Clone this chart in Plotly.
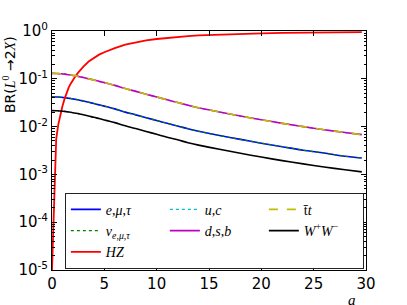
import plotly.graph_objects as go

a_vals = [0, 0.4, 0.6, 0.8, 1.0, 1.2, 1.4, 1.6, 1.8, 2.0, 2.25, 2.5, 2.75, 3, 3.5, 4,
          4.5, 5, 5.5, 6, 7, 8, 9, 10, 11, 12, 13, 14, 16, 18, 20, 22, 24, 26, 28, 29.6]

br_hz = [1e-5, 0.0055, 0.011, 0.018, 0.027, 0.038, 0.051, 0.066, 0.080, 0.095, 0.115,
         0.135, 0.158, 0.180, 0.230, 0.275, 0.320, 0.360, 0.400, 0.440, 0.520, 0.580,
         0.635, 0.680, 0.720, 0.755, 0.785, 0.810, 0.845, 0.872, 0.893, 0.910, 0.923,
         0.934, 0.942, 0.948]

br_quarks = [0.130, 0.1293, 0.1286, 0.1277, 0.1265, 0.1251, 0.1234, 0.1214, 0.1196,
             0.1177, 0.1151, 0.1125, 0.1095, 0.1066, 0.1001, 0.0943, 0.0884, 0.0832,
             0.0780, 0.0728, 0.0624, 0.0546, 0.0475, 0.0416, 0.0364, 0.0319, 0.0280,
             0.0247, 0.0202, 0.0166, 0.0139, 0.0117, 0.0100, 0.0086, 0.0075, 0.0068]
br_uc = list(br_quarks)
br_dsb = list(br_quarks)
br_tt = list(br_quarks)

br_lep = [0.0420, 0.0417, 0.0415, 0.0412, 0.0408, 0.0404, 0.0398, 0.0392, 0.0386,
          0.0380, 0.0371, 0.0363, 0.0353, 0.0344, 0.0323, 0.0304, 0.0285, 0.0268,
          0.0252, 0.0235, 0.0201, 0.0176, 0.0153, 0.0134, 0.0117, 0.0103, 0.0090,
          0.0080, 0.0065, 0.0054, 0.0045, 0.0038, 0.0032, 0.0028, 0.0024, 0.0022]
br_e = list(br_lep)
br_nu = list(br_lep)

br_ww = [0.0216, 0.0215, 0.0213, 0.0212, 0.0210, 0.0208, 0.0205, 0.0202, 0.0199,
         0.0195, 0.0191, 0.0187, 0.0182, 0.0177, 0.0166, 0.0157, 0.0147, 0.0138,
         0.0129, 0.0121, 0.0104, 0.0091, 0.0079, 0.0069, 0.0060, 0.0053, 0.0046,
         0.0041, 0.00335, 0.00276, 0.00231, 0.00194, 0.00166, 0.00143, 0.00125,
         0.00113]

ytick_vals = [1e-5, 1e-4, 1e-3, 1e-2, 1e-1, 1]
ytick_text = ["10<sup>-5</sup>", "10<sup>-4</sup>", "10<sup>-3</sup>",
              "10<sup>-2</sup>", "10<sup>-1</sup>", "10<sup>0</sup>"]
xtick_vals = [0, 5, 10, 15, 20, 25, 30]

# (name, y, color, dash, width, legendrank, shape) in drawing order
series = [
    ("<i>e</i>,<i>μ</i>,<i>τ</i>", br_e, "#0000ff", "solid", 1.6, 1, "spline"),
    ("<i>ν</i><sub><i>e</i>,<i>μ</i>,<i>τ</i></sub>", br_nu, "#008000", "dot", 1.2, 4, "spline"),
    ("<i>HZ</i>", br_hz, "#ff0000", "solid", 1.8, 7, "linear"),
    ("<i>u</i>,<i>c</i>", br_uc, "#00bfbf", "dot", 1.2, 2, "spline"),
    ("<i>d</i>,<i>s</i>,<i>b</i>", br_dsb, "#bf00bf", "solid", 1.6, 5, "spline"),
    ("t̄<i>t</i>", br_tt, "#bfbf00", "dash", 1.6, 3, "spline"),
    ("<i>W</i><sup>+</sup><i>W</i><sup>−</sup>", br_ww, "#000000", "solid", 1.6, 6, "spline"),
]

fig = go.Figure()
for name, y, color, dash, width, rank, shape in series:
    fig.add_trace(go.Scatter(
        x=a_vals, y=y, mode="lines", name=name, legendrank=rank,
        line=dict(color=color, dash=dash, width=width, shape=shape, smoothing=0.8),
    ))

axis_common = dict(
    showline=True, linecolor="black", linewidth=1, mirror="ticks",
    ticks="inside", tickcolor="black", showgrid=False, zeroline=False,
    tickfont=dict(family="DejaVu Sans", size=15, color="black"),
)

fig.update_xaxes(range=[0, 30], tickvals=xtick_vals, ticklen=5, **axis_common)
fig.update_yaxes(type="log", range=[-5, 0], tickvals=ytick_vals, ticktext=ytick_text,
                 ticklen=5,
                 minor=dict(ticks="inside", ticklen=2.5, tickcolor="black",
                            dtick="D1", showgrid=False),
                 **axis_common)

fig.add_annotation(
    xref="paper", yref="paper", x=-0.137, y=0.82, xanchor="center", yanchor="middle",
    textangle=-90, showarrow=False,
    text="BR(<span style='font-family:Liberation Serif'><i>L</i><sup>0</sup></span> →2<span style='font-family:Liberation Serif'><i>X</i></span>)",
    font=dict(family="DejaVu Sans", size=14, color="black"),
)
fig.add_annotation(
    xref="paper", yref="paper", x=0.955, y=-0.085, xanchor="center", yanchor="top",
    showarrow=False, text="<i>a</i>",
    font=dict(family="Liberation Serif", size=15, color="black"),
)

fig.update_layout(
    width=407, height=305,
    margin=dict(l=52, r=41, t=31, b=30),
    plot_bgcolor="white", paper_bgcolor="white",
    showlegend=True,
    legend=dict(
        orientation="h", x=0.041, y=0.005, xanchor="left", yanchor="bottom",
        bgcolor="white", bordercolor="#222222", borderwidth=1,
        font=dict(family="Liberation Serif", size=14, color="black"),
        entrywidth=54, entrywidthmode="pixels", tracegroupgap=0,
    ),
)

fig.write_html("out.html", config={"displayModeBar": False},
               post_script="document.body.style.margin='0';")
